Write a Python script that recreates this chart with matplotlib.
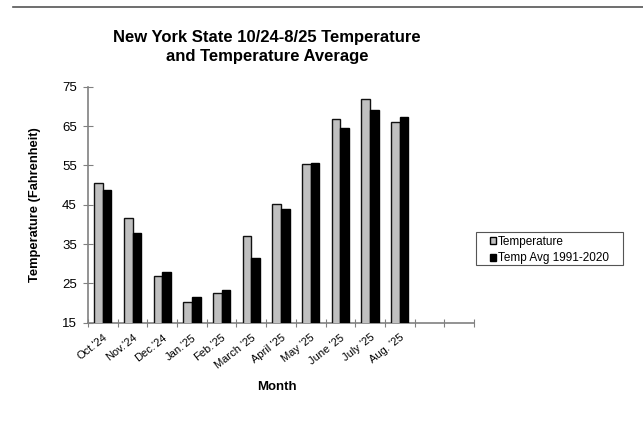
import matplotlib
matplotlib.use('Agg')
import matplotlib.pyplot as plt
from matplotlib.patches import Patch, Rectangle
from matplotlib.lines import Line2D

# Monthly values
months = ["Oct.'24", "Nov.'24", "Dec.'24", "Jan.'25", "Feb.'25", "March '25",
          "April '25", "May '25", "June '25", "July '25", "Aug. '25"]
temperature = [50.6, 41.7, 27.0, 20.2, 22.5, 37.1, 45.3, 55.3, 66.7, 71.9, 66.1]
temp_avg = [48.7, 37.8, 27.8, 21.5, 23.4, 31.5, 43.9, 55.7, 64.4, 69.0, 67.3]
n_slots = 13  # the category axis has two empty slots at the end

plt.rcParams['font.family'] = ['Liberation Sans', 'DejaVu Sans']

W, H = 643, 434
fig = plt.figure(figsize=(W / 100, H / 100), dpi=100)
ax = fig.add_axes([88 / W, 1 - 322.7 / H, 386 / W, 236 / H])

# gray rule along the top of the page
fig.add_artist(Line2D([13 / W, 1.0], [1 - 7 / H, 1 - 7 / H],
                      transform=fig.transFigure, color='#555555', lw=1.2))

w = 0.29
xs = [i + 0.5 for i in range(len(months))]
ax.bar([x - w / 2 for x in xs], temperature, width=w,
       color='#c0c0c0', edgecolor='#111111', linewidth=1.0, zorder=3)
ax.bar([x + w / 2 for x in xs], temp_avg, width=w,
       color='black', edgecolor='black', linewidth=1.0, zorder=3)

ax.set_xlim(0, n_slots)
ax.set_ylim(15, 75)
ax.set_yticks(range(15, 76, 10))
ax.tick_params(axis='y', labelsize=9.5, direction='inout', length=7,
               color='#808080', pad=4.5)

# ticks on slot boundaries, labels at slot centres
ax.set_xticks(range(0, n_slots + 1))
ax.set_xticklabels([])
ax.tick_params(axis='x', which='major', direction='inout', length=6,
               color='#808080')
ax.set_xticks(xs, minor=True)
ax.set_xticklabels(months, minor=True, rotation=38, ha='right',
                   rotation_mode='anchor', fontsize=8)
ax.tick_params(axis='x', which='minor', length=0, pad=7)

for s in ['top', 'right']:
    ax.spines[s].set_visible(False)
for s in ['left', 'bottom']:
    ax.spines[s].set_color('#808080')
    ax.spines[s].set_linewidth(1.2)

ax.set_ylabel('Temperature (Fahrenheit)', fontsize=9.3, fontweight='bold')
ax.yaxis.set_label_coords(-0.122, 0.5)
ax.set_xlabel('Month', fontsize=9.5, fontweight='bold')
ax.xaxis.set_label_coords(0.49, -0.245)

fig.text(267 / W, 1 - 47 / H, 'New York State 10/24-8/25 Temperature\nand Temperature Average',
         ha='center', va='center', fontsize=12, fontweight='bold',
         linespacing=1.3)

# legend box drawn separately so its padding can be wider than tall
fig.add_artist(Rectangle((476 / W, 1 - 265 / H), 147 / W, 33 / H,
                         transform=fig.transFigure, facecolor='white',
                         edgecolor='#555555', lw=0.8))
handles = [Patch(facecolor='#c0c0c0', edgecolor='black', lw=1.0),
           Patch(facecolor='black', edgecolor='black', lw=1.0)]
leg = fig.legend(handles, ['Temperature', 'Temp Avg 1991-2020'],
                 loc='center left', bbox_to_anchor=(490 / W, 1 - 250 / H),
                 fontsize=8.5, frameon=False,
                 handlelength=0.55, handleheight=0.55, handletextpad=0.15,
                 borderpad=0, borderaxespad=0, labelspacing=0.4)

plt.savefig('out.png', dpi=100)
